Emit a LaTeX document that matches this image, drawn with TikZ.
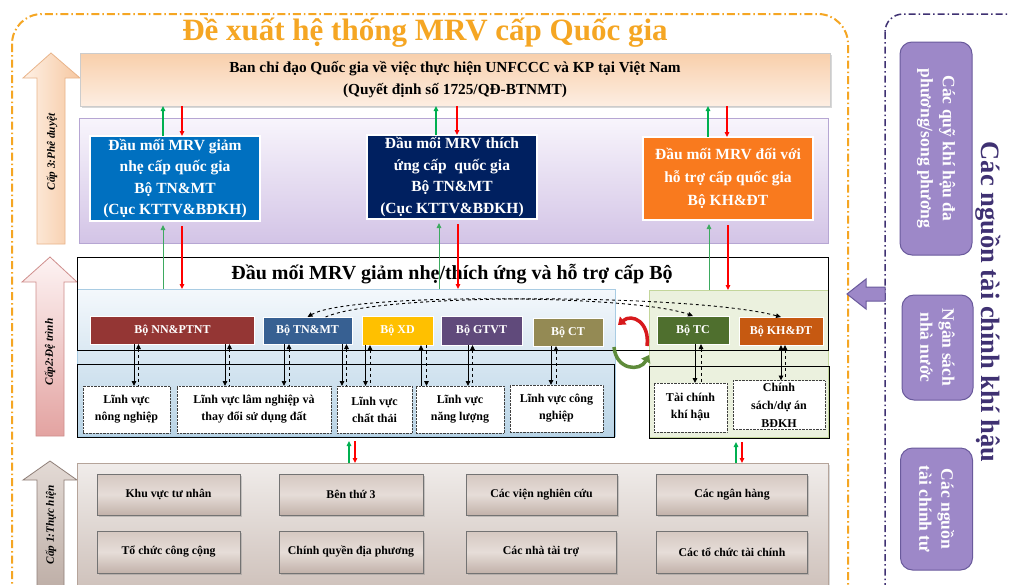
\documentclass[tikz,border=0pt]{standalone}
\usepackage{fontspec}
\setmainfont{Liberation Serif}
\usetikzlibrary{arrows.meta,shadows}
\definecolor{orng}{HTML}{F5A623}
\definecolor{prp}{HTML}{3F3172}
\definecolor{prpfill}{HTML}{9D88C8}
\definecolor{prpedge}{HTML}{6A5A9C}
\definecolor{grnc}{HTML}{00B050}
\definecolor{grnthin}{HTML}{3DAA60}
\definecolor{rdc}{HTML}{FF0000}
\definecolor{blue1}{HTML}{0070C0}
\definecolor{navy}{HTML}{002060}
\definecolor{orbox}{HTML}{F97A1E}
\definecolor{nnc}{HTML}{943634}
\definecolor{tnc}{HTML}{376092}
\definecolor{xdc}{HTML}{FFC000}
\definecolor{gtc}{HTML}{604A7B}
\definecolor{ctc}{HTML}{948A54}
\definecolor{tcc}{HTML}{4F6F2E}
\definecolor{khc}{HTML}{C65911}
\definecolor{lbedge}{HTML}{A9CCE3}
\definecolor{lgfill}{HTML}{EBF1DE}
\definecolor{lgedge}{HTML}{C3D69B}
\definecolor{cyclered}{HTML}{D7191C}
\definecolor{cyclegreen}{HTML}{5E8B3A}
\definecolor{xpeachL}{HTML}{FEF1E6}
\definecolor{xpeachR}{HTML}{F6C7A0}
\definecolor{xpeachE}{HTML}{E9B48A}
\definecolor{xpinkE}{HTML}{CF8E8C}
\definecolor{xpinkT}{HTML}{FDF3F3}
\definecolor{xpinkB}{HTML}{E3A3A1}
\definecolor{xtaupeE}{HTML}{8F7F78}
\definecolor{xtaupeT}{HTML}{E3DAD5}
\definecolor{xtaupeB}{HTML}{BBABA3}
\definecolor{xtopT}{HTML}{F8CFAB}
\definecolor{xtopB}{HTML}{FDEEE2}
\definecolor{xprE}{HTML}{B6A6D3}
\definecolor{xprT}{HTML}{F8F5FC}
\definecolor{xprB}{HTML}{D3C4E6}
\definecolor{xlbT}{HTML}{F4F8FC}
\definecolor{xlbB}{HTML}{B9D4E6}
\definecolor{xbotE}{HTML}{B5A49A}
\definecolor{xbotT}{HTML}{F0ECEA}
\definecolor{xbotB}{HTML}{CBBDB6}
\definecolor{xbbT}{HTML}{D5C8C1}
\definecolor{xbbB}{HTML}{C2B2AA}
\definecolor{xbbM}{HTML}{E6DDD8}
\begin{document}
\begin{tikzpicture}[x=1pt,y=-1pt,
  every node/.style={inner sep=0pt,outer sep=0pt},
  >={Triangle[length=5pt,width=4.5pt]},
  natbox/.style={draw=white,line width=1.5pt,text=white,align=center,
    font=\bfseries\fontsize{15.5}{21.5}\selectfont},
  minbox/.style={draw=white,line width=0.8pt,text=white,align=center,
    font=\bfseries\fontsize{12}{14}\selectfont},
  lvbox/.style={draw=black!75,densely dotted,fill=white,align=center,
    font=\bfseries\fontsize{12}{17}\selectfont},
  botbox/.style={draw=black!55,line width=1pt,top color=xbbT,bottom color=xbbB,
    middle color=xbbM,align=center,font=\bfseries\fontsize{11.8}{14}\selectfont,
    drop shadow={shadow xshift=1.5pt,shadow yshift=-1.5pt,opacity=0.35}},
  srcbox/.style={draw=prpedge,line width=1pt,fill=prpfill,rounded corners=12pt,
    text=white,align=center,rotate=-90,font=\bfseries\fontsize{17.5}{22}\selectfont},
  grnarr/.style={draw=grnc,line width=1.6pt,->},
  grnthinarr/.style={draw=grnthin,line width=1pt,->},
  redarr/.style={draw=rdc,line width=1.6pt,->},
  solarr/.style={draw=black,line width=0.9pt},
  dasharr/.style={draw=black,line width=0.9pt,dashed},
  lvltext/.style={rotate=90,font=\bfseries\itshape\fontsize{11.2}{13}\selectfont}
]
\path[use as bounding box] (0,0) rectangle (1009,584);
\clip (0,0) rectangle (1009,584);
\fill[white] (0,0) rectangle (1009,584);

% outer borders
\draw[orng,line width=2pt,rounded corners=30pt,dash pattern=on 8pt off 3pt on 1.5pt off 3pt] (12,14) rectangle (848,620);
\draw[prp,line width=1.5pt,rounded corners=18pt,dash pattern=on 7pt off 3pt on 1.5pt off 3pt] (885,14) rectangle (1040,620);

% title
\node[text=orng,font=\bfseries\fontsize{31}{33}\selectfont] (title) at (425,33) {Đề xuất hệ thống MRV cấp Quốc gia};

% level arrows
\path[draw=xpeachE,line width=0.8pt,left color=xpeachL,right color=xpeachR]
  (51,53) -- (80,78) -- (65,78) -- (65,244) -- (37,244) -- (37,78) -- (23,78) -- cycle;
\node[lvltext] (l3) at (52,152) {Cấp 3:Phê duyệt};
\path[draw=xpinkE,line width=0.8pt,top color=xpinkT,bottom color=xpinkB]
  (50,257) -- (77,282) -- (64,282) -- (64,436) -- (36,436) -- (36,282) -- (22,282) -- cycle;
\node[lvltext] (l2) at (50,352) {Cấp2:Đệ trình};
\path[draw=xtaupeE,line width=0.8pt,top color=xtaupeT,bottom color=xtaupeB]
  (50,461) -- (77,480) -- (64,480) -- (64,600) -- (37,600) -- (37,480) -- (23,480) -- cycle;
\node[lvltext] (l1) at (51,525) {Cấp 1:Thực hiện};

% top box
\node[draw=black!20,line width=0.6pt,top color=xtopT,bottom color=xtopB,minimum width=750pt,minimum height=53pt,
  drop shadow={shadow xshift=1.5pt,shadow yshift=-1.5pt,opacity=0.3},align=center,
  font=\bfseries\fontsize{15.3}{22}\selectfont] (top) at (455,79.5)
  {Ban chỉ đạo Quốc gia về việc thực hiện UNFCCC và KP tại Việt Nam\\(Quyết định số 1725/QĐ-BTNMT)};

% purple region
\node[draw=xprE,line width=0.8pt,top color=xprT,bottom color=xprB,minimum width=749pt,minimum height=125pt] (preg) at (453.5,180.5) {};
\node[natbox,fill=blue1,minimum width=170pt,minimum height=85pt] (nb1) at (175,178.5)
  {Đầu mối MRV giảm\\nhẹ cấp quốc gia\\Bộ TN\&MT\\(Cục KTTV\&BĐKH)};
\node[natbox,fill=navy,minimum width=170pt,minimum height=84pt] (nb2) at (452,177)
  {Đầu mối MRV thích\\ứng cấp~ quốc gia\\Bộ TN\&MT\\(Cục KTTV\&BĐKH)};
\node[natbox,fill=orbox,minimum width=170pt,minimum height=83pt,font=\bfseries\fontsize{15.5}{23}\selectfont] (nb3) at (728,178.5)
  {Đầu mối MRV đối với\\hỗ trợ cấp quốc gia\\Bộ KH\&ĐT};

% middle section
\node[draw=black,line width=1pt,fill=white,minimum width=751pt,minimum height=93pt] (mid) at (452.5,303.5) {};
\node[font=\bfseries\fontsize{20}{22}\selectfont] (midtitle) at (452,274) {Đầu mối MRV giảm nhẹ/thích ứng và hỗ trợ cấp Bộ};
\node[draw=lbedge,line width=1pt,top color=xlbT,bottom color=xlbB,minimum width=538pt,minimum height=147pt] (lb) at (346,362.5) {};
\node[draw=lgedge,line width=1pt,fill=lgfill,minimum width=179pt,minimum height=147pt] (lg) at (738.5,363.5) {};
\draw[black,line width=1pt] (mid.south west) -- (mid.north west) -- (mid.north east) -- (mid.south east) -- cycle;
\node[draw=black,line width=1pt,minimum width=537pt,minimum height=73pt] (lowl) at (345.5,400.5) {};
\node[draw=black,line width=1pt,minimum width=180pt,minimum height=72pt] (lowr) at (739,402) {};

% ministries
\node[minbox,fill=nnc,minimum width=164pt,minimum height=28pt] (nn) at (172.5,330) {Bộ NN\&PTNT};
\node[minbox,fill=tnc,minimum width=89pt,minimum height=27pt] (tn) at (307.5,330.5) {Bộ TN\&MT};
\node[minbox,fill=xdc,minimum width=71pt,minimum height=29pt] (xd) at (397.5,330.5) {Bộ XD};
\node[minbox,fill=gtc,minimum width=81pt,minimum height=29pt] (gt) at (481.5,330.5) {Bộ GTVT};
\node[minbox,fill=ctc,minimum width=70pt,minimum height=28pt] (ct) at (568,332) {Bộ CT};
\node[minbox,fill=tcc,minimum width=72pt,minimum height=28pt] (tc) at (693,330) {Bộ TC};
\node[minbox,fill=khc,minimum width=84pt,minimum height=28pt] (kh) at (781,331) {Bộ KH\&ĐT};

% sectors
\node[lvbox,minimum width=87pt,minimum height=47pt] (lv1) at (126.5,409.5) {Lĩnh vực\\nông nghiệp};
\node[lvbox,minimum width=154pt,minimum height=47pt] (lv2) at (254,409.5) {Lĩnh vực lâm nghiệp và\\thay đổi sử dụng đất};
\node[lvbox,minimum width=75pt,minimum height=47pt] (lv3) at (374.5,409.5) {Lĩnh vực\\chất thải};
\node[lvbox,minimum width=88pt,minimum height=47pt] (lv4) at (460,409.5) {Lĩnh vực\\năng lượng};
\node[lvbox,minimum width=93pt,minimum height=47pt] (lv5) at (556.5,408.5) {Lĩnh vực công\\nghiệp};
\node[lvbox,minimum width=73pt,minimum height=49pt] (lv6) at (690.5,407.5) {Tài chính\\khí hậu};
\node[lvbox,minimum width=92pt,minimum height=49pt,font=\bfseries\fontsize{12}{18}\selectfont] (lv7) at (779,405) {Chính\\sách/dự án\\BĐKH};

% ministry - sector arrows
\draw[solarr,->] (134,0 |- nn.south) -- (134,0 |- lv1.north);
\draw[dasharr,<-] (138.5,0 |- nn.south) -- (138.5,0 |- lv1.north);
\draw[solarr,->] (225,0 |- nn.south) -- (225,0 |- lv2.north);
\draw[dasharr,<-] (229.5,0 |- nn.south) -- (229.5,0 |- lv2.north);
\draw[solarr,->] (284,0 |- tn.south) -- (284,0 |- lv2.north);
\draw[dasharr,<-] (289,0 |- tn.south) -- (289,0 |- lv2.north);
\draw[solarr,->] (342,0 |- tn.south) -- (342,0 |- lv3.north);
\draw[dasharr,<-] (346.5,0 |- tn.south) -- (346.5,0 |- lv3.north);
\draw[solarr,->] (365.5,0 |- xd.south) -- (365.5,0 |- lv3.north);
\draw[dasharr,<-] (370,0 |- xd.south) -- (370,0 |- lv3.north);
\draw[solarr,<-] (421,0 |- xd.south) -- (421,0 |- lv4.north);
\draw[dasharr,->] (426.5,0 |- xd.south) -- (426.5,0 |- lv4.north);
\draw[solarr,->] (468,0 |- gt.south) -- (468,0 |- lv4.north);
\draw[dasharr,<-] (472.5,0 |- gt.south) -- (472.5,0 |- lv4.north);
\draw[solarr,->] (551,0 |- ct.south) -- (551,0 |- lv5.north);
\draw[dasharr,<-] (556,0 |- ct.south) -- (556,0 |- lv5.north);
\draw[solarr,->] (695,0 |- tc.south) -- (695,0 |- lv6.north);
\draw[dasharr,<-] (701,0 |- tc.south) -- (701,0 |- lv6.north);
\draw[solarr,<->] (781,0 |- kh.south) -- (781,0 |- lv7.north);
\draw[dasharr,<-] (785,0 |- kh.south) -- (785,0 |- lv7.north);

% dashed curves between ministries
\draw[dasharr,<->] (tn.north) .. controls +(40,-24) and +(-60,-22) .. (tc.north);
\draw[dasharr,->] ([xshift=18pt]tn.north) .. controls +(60,-26) and +(-80,-22) .. (kh.north);

% cycle arrows
\draw[cyclered,line width=3.5pt,-{Triangle[length=7pt,width=10pt]}] (647,346) .. controls (650,322) and (632,313) .. (618,325);
\draw[cyclegreen,line width=3.5pt,-{Triangle[length=7pt,width=10pt]}] (614,347) .. controls (616,370) and (640,372) .. (649,355);

% top connectors
\draw[grnarr] (163,0 |- nb1.north) -- (163,0 |- top.south);
\draw[redarr] (182,0 |- top.south) -- (182,0 |- nb1.north);
\draw[grnarr] (436,0 |- nb2.north) -- (436,0 |- top.south);
\draw[redarr] (457,0 |- top.south) -- (457,0 |- nb2.north);
\draw[grnarr] (708,0 |- nb3.north) -- (708,0 |- top.south);
\draw[redarr] (727,0 |- top.south) -- (727,0 |- nb3.north);

\draw[grnthinarr] (163,0 |- lb.north) -- ([yshift=-4pt]163,0 |- nb1.south);
\draw[redarr] ([yshift=-5pt]182,0 |- nb1.south) -- (182,0 |- lb.north);
\draw[grnthinarr] (439,0 |- lb.north) -- ([yshift=-4pt]439,0 |- nb2.south);
\draw[redarr] ([yshift=-5pt]458,0 |- nb2.south) -- (458,0 |- lb.north);
\draw[grnthinarr] (709,0 |- lg.north) -- ([yshift=-4pt]709,0 |- nb3.south);
\draw[redarr] ([yshift=-5pt]728,0 |- nb3.south) -- (728,0 |- lg.north);

% bottom section
\node[draw=xbotE,line width=1pt,top color=xbotT,bottom color=xbotB,minimum width=751pt,minimum height=140pt,anchor=north west,
  drop shadow={shadow xshift=1.5pt,shadow yshift=-1.5pt,opacity=0.3}] (bot) at (77,463) {};
\node[botbox,minimum width=143pt,minimum height=41pt] (b1) at (168.5,494.5) {Khu vực tư nhân};
\node[botbox,minimum width=144pt,minimum height=41pt] (b2) at (351,494.5) {Bên thứ 3};
\node[botbox,minimum width=151pt,minimum height=41pt] (b3) at (541.5,494.5) {Các viện nghiên cứu};
\node[botbox,minimum width=151pt,minimum height=41pt] (b4) at (732,494.5) {Các ngân hàng};
\node[botbox,minimum width=143pt,minimum height=42pt] (b5) at (168.5,552) {Tổ chức công cộng};
\node[botbox,minimum width=144pt,minimum height=42pt] (b6) at (351,552) {Chính quyền địa phương};
\node[botbox,minimum width=150pt,minimum height=42pt] (b7) at (541,552) {Các nhà tài trợ};
\node[botbox,minimum width=151pt,minimum height=42pt] (b8) at (732,552) {Các tổ chức tài chính};

\draw[grnarr,line width=1.3pt] (349,0 |- bot.north) -- ([yshift=-4pt]349,0 |- lowl.south);
\draw[redarr,line width=1.3pt] ([yshift=-4pt]355,0 |- lowl.south) -- (355,0 |- bot.north);
\draw[grnarr,line width=1.3pt] (736,0 |- bot.north) -- ([yshift=-4pt]736,0 |- lowr.south);
\draw[redarr,line width=1.3pt] ([yshift=-4pt]742,0 |- lowr.south) -- (742,0 |- bot.north);

% right side
\node[srcbox,minimum width=213pt,minimum height=72pt] (s1) at (936,148.5) {Các quỹ khí hậu đa\\phương/song phương};
\node[srcbox,minimum width=105pt,minimum height=71pt] (s2) at (937.5,347.5) {Ngân sách\\nhà nước};
\node[srcbox,minimum width=122pt,minimum height=72pt] (s3) at (936.5,509) {Các nguồn\\tài chính tư};
\node[rotate=-90,text=prp,font=\bfseries\fontsize{26.5}{28}\selectfont] (srctitle) at (988,302) {Các nguồn tài chính khí hậu};
\coordinate (arrtip) at (847,294);
\path[draw=prpedge,line width=1pt,fill=prpfill] (arrtip) -- (866,279) -- (866,287) -- (885,287) -- (885,301) -- (866,301) -- (866,309) -- cycle;
\end{tikzpicture}
\end{document}
